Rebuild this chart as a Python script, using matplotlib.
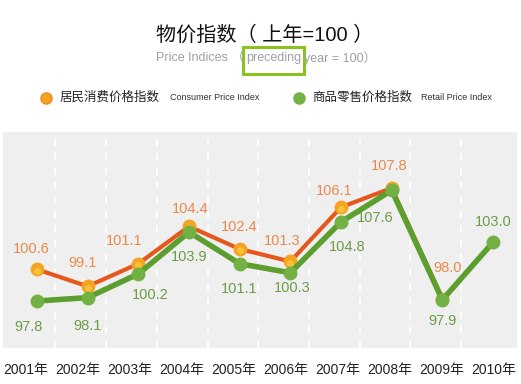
import numpy as np
import matplotlib
matplotlib.use("Agg")
import matplotlib.pyplot as plt
from matplotlib.patches import Rectangle

years = ["2001年", "2002年", "2003年", "2004年", "2005年",
         "2006年", "2007年", "2008年", "2009年", "2010年"]
cpi = [100.6, 99.1, 101.1, 104.4, 102.4, 101.3, 106.1, 107.8, 98.0, np.nan]
rpi = [97.8, 98.1, 100.2, 103.9, 101.1, 100.3, 104.8, 107.6, 97.9, 103.0]

# label offsets in pixels (dx, dy), screen y going up
cpi_off = [(-6, 20), (-5, 23), (-14, 23), (1, 17), (0, 22), (-8, 20), (-7, 16), (-3, 22), (5, 31), (0, 0)]
rpi_off = [(-8, -26), (0, -28), (12, -21), (0, -25), (0, -25), (2, -15), (6, -25), (-17, -28), (0, -21), (0, 20)]

FONT = ["Liberation Sans", "Noto Sans CJK SC", "DejaVu Sans"]
plt.rcParams["font.family"] = FONT

c_line = "#e4581d"
c_mark = "#f4a422"
c_text = "#e88a4c"
g_line = "#5c9f2f"
g_mark = "#74b144"
g_text = "#6c9c48"

fig = plt.figure(figsize=(5.21, 3.84), dpi=100)
ax = fig.add_axes([3/521, 36/384, 514/521, 216/384])
ax.set_facecolor("#efefef")
x = np.arange(len(years))

for i in range(len(years) - 1):
    ax.axvline(i + 0.365, color="white", lw=1.3, ls=(0, (4, 4)), zorder=1)

ax.plot(x, cpi, "-", color=c_line, lw=3, zorder=3)
ax.plot(x, cpi, "o", ms=9, mfc=c_mark, mec=c_mark, zorder=4)
ax.plot(x, np.array(cpi) - 0.12, "o", ms=5, mfc="#f9c93a", mec="none", alpha=0.8, zorder=4)
ax.plot(x, rpi, "-", color=g_line, lw=4, zorder=5)
ax.plot(x, rpi, "o", ms=9, mfc=g_mark, mec=g_mark, zorder=6)

pt = 72 / 100
for i in range(len(years)):
    if not np.isnan(cpi[i]):
        dx, dy = cpi_off[i]
        ax.annotate(f"{cpi[i]:.1f}", (x[i], cpi[i]), xytext=(dx*pt, dy*pt), textcoords="offset points",
                    ha="center", va="center", fontsize=10.5, color=c_text, zorder=7)
    dx, dy = rpi_off[i]
    ax.annotate(f"{rpi[i]:.1f}", (x[i], rpi[i]), xytext=(dx*pt, dy*pt), textcoords="offset points",
                ha="center", va="center", fontsize=10.5, color=g_text, zorder=7)

ax.set_xlim(-0.671, 9.473)
ax.set_ylim(93.64, 112.76)
ax.set_xticks([])
ax.set_yticks([])
for s in ax.spines.values():
    s.set_visible(False)

# year labels under the plot
for i, yr in enumerate(years):
    fig.text((26 + 52*i)/521, 1 - 370/384, yr, ha="center", va="center", fontsize=10, color="#222222")

# title and subtitle
fig.text(265/521, 1 - 35/384, "物价指数（ 上年=100 ）", ha="center", va="center",
         fontsize=14.5, fontweight="medium", color="#111111")
fig.text(244/521, 1 - 58/384, "Price Indices （", ha="right", va="center", fontsize=9, color="#a0a0a0")
fig.text(273.5/521, 1 - 58/384, "preceding", ha="center", va="center", fontsize=9, color="#a0a0a0")
fig.text(304/521, 1 - 58/384, "year = 100）", ha="left", va="center", fontsize=9, color="#a0a0a0")
fig.patches.append(Rectangle((243/521, 1 - 74/384), 61/521, 27/384, transform=fig.transFigure,
                             fill=False, ec="#8cc21f", lw=2.2))

# legend
fig.lines.append(plt.Line2D([46/521], [1 - 98/384], marker="o", ms=8, mfc=c_mark, mec="#f08a20",
                            transform=fig.transFigure))
fig.text(60/521, 1 - 98/384, "居民消费价格指数", ha="left", va="center", fontsize=9, color="#222222")
fig.text(170/521, 1 - 98/384, "Consumer Price Index", ha="left", va="center", fontsize=6.5, color="#333333")
fig.lines.append(plt.Line2D([299/521], [1 - 98/384], marker="o", ms=8, mfc=g_mark, mec=g_mark,
                            transform=fig.transFigure))
fig.text(312/521, 1 - 98/384, "商品零售价格指数", ha="left", va="center", fontsize=9, color="#222222")
fig.text(421/521, 1 - 98/384, "Retail Price Index", ha="left", va="center", fontsize=6.5, color="#333333")

fig.savefig("out.png", dpi=100)
